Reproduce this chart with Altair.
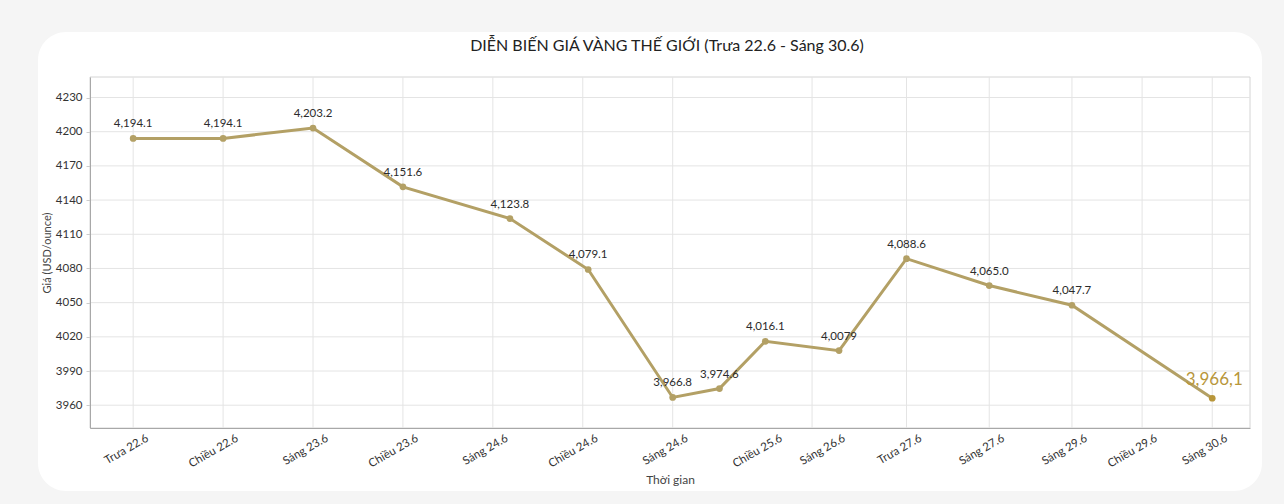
import altair as alt
import pandas as pd

# Time positions of the observations (axis units, one unit per session slot)
times = [0, 1, 2, 3, 4.19, 5.06, 6, 6.52, 7.03, 7.85, 8.6, 9.52, 10.44, 12]
prices = [4194.1, 4194.1, 4203.2, 4151.6, 4123.8, 4079.1, 3966.8,
          3974.6, 4016.1, 4007.9, 4088.6, 4065.0, 4047.7, 3966.1]
value_labels = ["4,194.1", "4,194.1", "4,203.2", "4,151.6", "4,123.8", "4,079.1",
                "3,966.8", "3,974.6", "4,016.1", "4,0079", "4,088.6", "4,065.0",
                "4,047.7", "3,966,1"]

tick_pos = [0, 1, 2, 3, 4, 5, 6, 7.05, 7.75, 8.6, 9.52, 10.44, 11.22, 12]
tick_labels = ["Trưa 22.6", "Chiều 22.6", "Sáng 23.6", "Chiều 23.6", "Sáng 24.6",
               "Chiều 24.6", "Sáng 24.6", "Chiều 25.6", "Sáng 26.6", "Trưa 27.6",
               "Sáng 27.6", "Sáng 29.6", "Chiều 29.6", "Sáng 30.6"]
grid_pos = [0, 1, 2, 3, 4, 5, 6, 7.55, 8.6, 9.52, 10.44, 11.22, 12]
y_ticks = [3960, 3990, 4020, 4050, 4080, 4110, 4140, 4170, 4200, 4230]

TITLE = "DIỄN BIẾN GIÁ VÀNG THẾ GIỚI (Trưa 22.6 - Sáng 30.6)"

LINE = "#b3a065"
GOLD = "#b8963a"
GRID = "#e4e4e4"
FONT = "Lato"

W, H = 1160, 351

df = pd.DataFrame({"t": times, "price": prices, "label": value_labels})
df["last"] = [i == len(df) - 1 for i in range(len(df))]

x_scale = alt.Scale(domain=[-0.48, 12.42], nice=False, zero=False)
y_scale = alt.Scale(domain=[3940, 4248], nice=False, zero=False)

label_expr = ("[" + ",".join(f"'{s}'" for s in tick_labels) + "][indexof(["
              + ",".join(str(v) for v in tick_pos) + "], datum.value)]")

x_axis = alt.Axis(values=tick_pos, labelExpr=label_expr, grid=False, zindex=2,
                  labelAngle=-30, labelAlign="right", labelBaseline="top",
                  labelOffset=11, labelPadding=4, labelFontSize=11.5,
                  labelColor="#333333", labelFont=FONT, labelFlush=False,
                  labelOverlap=False, ticks=False, domainColor="#a8a8a8",
                  title="Thời gian", titleFont=FONT, titleFontSize=12,
                  titleFontWeight="normal", titleColor="#444444", titlePadding=5)
y_axis = alt.Axis(values=y_ticks, format="d", grid=False, zindex=2,
                  labelFontSize=11.5, labelColor="#333333", labelFont=FONT,
                  ticks=True, tickSize=4, tickColor="#cccccc", labelPadding=4,
                  domainColor="#a8a8a8",
                  title="Giá (USD/ounce)", titleFont=FONT, titleFontSize=11,
                  titleFontWeight="normal", titleColor="#444444", titlePadding=3)

card = alt.Chart(alt.Data(values=[{}])).mark_rect(
    color="white", cornerRadius=28
).encode(x=alt.value(-52), x2=alt.value(1172), y=alt.value(-45), y2=alt.value(414))

frame = alt.Chart(alt.Data(values=[{}])).mark_rect(
    fillOpacity=0, stroke="#d4d4d4", strokeWidth=1
).encode(x=alt.value(0), x2=alt.value(W), y=alt.value(0), y2=alt.value(H))

title = alt.Chart(alt.Data(values=[{"txt": TITLE}])).mark_text(
    font=FONT, fontSize=16, color="#222222", align="center", baseline="alphabetic"
).encode(x=alt.value(W / 2 - 3), y=alt.value(-26), text="txt:N")

vgrid = alt.Chart(pd.DataFrame({"g": grid_pos})).mark_rule(
    color=GRID, strokeWidth=1
).encode(x=alt.X("g:Q", scale=x_scale, axis=x_axis))

hgrid = alt.Chart(pd.DataFrame({"v": y_ticks})).mark_rule(
    color=GRID, strokeWidth=1
).encode(y=alt.Y("v:Q", scale=y_scale, axis=y_axis))

base = alt.Chart(df)
X = alt.X("t:Q", scale=x_scale, axis=x_axis)
Y = alt.Y("price:Q", scale=y_scale, axis=y_axis)

line = base.mark_line(color=LINE, strokeWidth=3).encode(x=X, y=Y)

points = base.mark_circle(size=45, opacity=1).encode(
    x=X, y=Y,
    color=alt.condition("datum.last", alt.value(GOLD), alt.value(LINE)),
)

labels = base.transform_filter("!datum.last").mark_text(
    dy=-14, fontSize=11.5, font=FONT, color="#2b2b2b"
).encode(x=X, y=Y, text="label:N")

last_label = base.transform_filter("datum.last").mark_text(
    dy=-18, dx=2, fontSize=17, font=FONT, color=GOLD
).encode(x=X, y=Y, text="label:N")

chart = alt.layer(card, frame, title, vgrid, hgrid, line, points, labels,
                  last_label).properties(
    width=W, height=H,
    autosize=alt.AutoSizeParams(type="none"),
    padding={"left": 90, "top": 77, "right": 34, "bottom": 76},
    background="#f5f5f5",
).configure_view(stroke=None)

chart.save("out.html", embed_options={"renderer": "svg", "actions": False})
